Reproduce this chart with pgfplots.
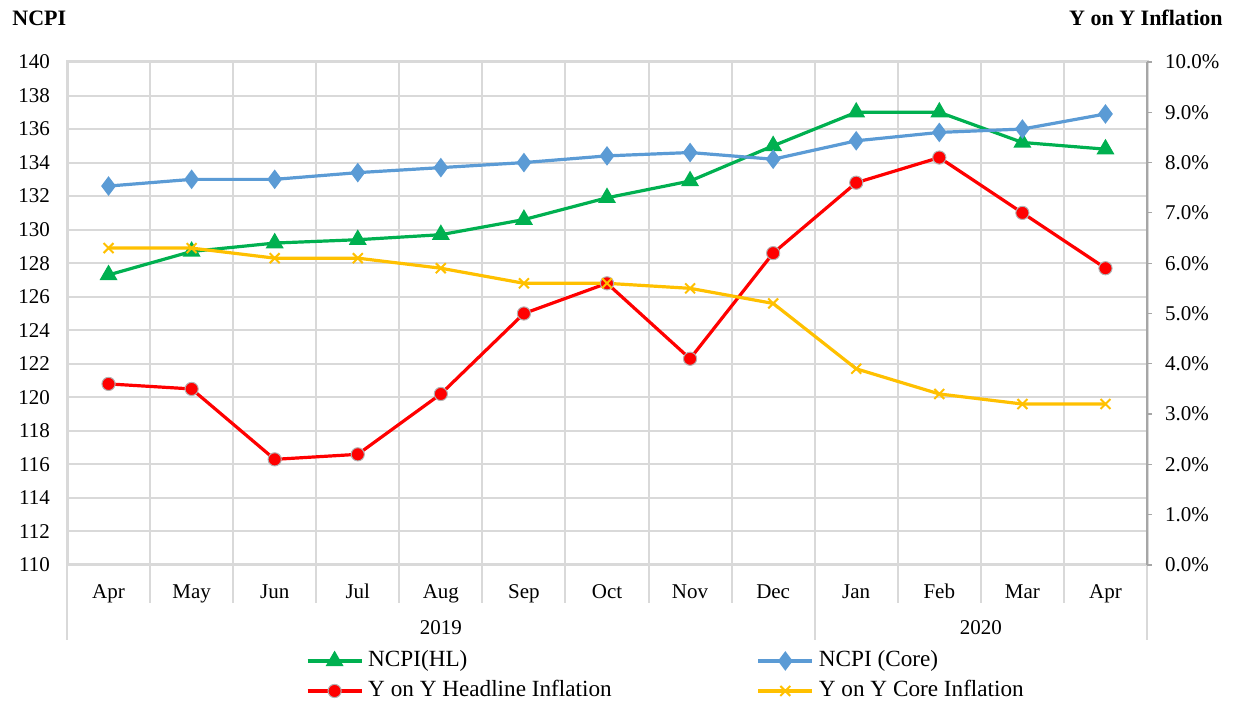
\documentclass[border=0pt]{standalone}
\usepackage{fontspec}
\setmainfont{Liberation Serif}
\usepackage{pgfplots}
\pgfplotsset{compat=1.18}
\definecolor{cgreen}{HTML}{00B050}
\definecolor{cblue}{HTML}{5B9BD5}
\definecolor{cred}{HTML}{FF0000}
\definecolor{cyel}{HTML}{FFC000}
\definecolor{cgrid}{HTML}{D9D9D9}
\definecolor{caxis}{HTML}{A6A6A6}
\begin{document}
\begin{tikzpicture}
\path[use as bounding box] (0,0) rectangle (618.5pt,352pt);
\node[anchor=west,inner sep=0pt,font=\fontsize{11}{13}\selectfont\bfseries] at (6pt,343pt) {NCPI};
\node[anchor=east,inner sep=0pt,font=\fontsize{11}{13}\selectfont\bfseries] at (611.5pt,343pt) {Y on Y Inflation};
\begin{axis}[at={(33.5pt,69.5pt)}, anchor=south west, scale only axis,
  width=540pt, height=251.5pt,
  xmin=-0.5, xmax=12.5, ymin=110, ymax=140,
  xtick={0,...,12},
  xticklabels={Apr,May,Jun,Jul,Aug,Sep,Oct,Nov,Dec,Jan,Feb,Mar,Apr},
  minor xtick={0.5,1.5,2.5,3.5,4.5,5.5,6.5,7.5,8.5,9.5,10.5,11.5},
  xminorgrids,
  ytick={110,112,...,140}, ymajorgrids,
  major tick length=0pt, minor tick length=0pt,
  grid style={cgrid, line width=1pt},
  minor grid style={cgrid, line width=1pt},
  axis line style={cgrid, line width=1.5pt},
  ticklabel style={font=\fontsize{10.5}{12}\selectfont},
  /pgf/number format/assume math mode=true,
  xticklabel style={text height=7pt, text depth=2.3pt, yshift=-6pt},
  yticklabel style={xshift=-5pt},
  clip=false]
\addplot[cgreen, line width=1.6pt, mark=triangle*, mark size=3.6pt] coordinates {
(0,127.3) (1,128.7) (2,129.2) (3,129.4) (4,129.7) (5,130.6) (6,131.9) (7,132.9) (8,135.0) (9,137.0) (10,137.0) (11,135.2) (12,134.8)};
\addplot[cblue, line width=1.6pt, mark=diamond*, mark size=3.6pt] coordinates {
(0,132.6) (1,133.0) (2,133.0) (3,133.4) (4,133.7) (5,134.0) (6,134.4) (7,134.6) (8,134.2) (9,135.3) (10,135.8) (11,136.0) (12,136.9)};
\end{axis}
\foreach \k in {1,2,3,4,5,6,7,8,10,11,12}
  \draw[cgrid, line width=1pt] (33.5pt+\k*41.5385pt,69.5pt) -- ++(0,-19pt);
\foreach \k in {0,9,13}
  \draw[cgrid, line width=1pt] (33.5pt+\k*41.5385pt,69.5pt) -- ++(0,-37.5pt);
\node[font=\fontsize{10.5}{12}\selectfont] at (33.5pt+4.5*41.5385pt,38pt) {2019};
\node[font=\fontsize{10.5}{12}\selectfont] at (33.5pt+11*41.5385pt,38pt) {2020};
\begin{axis}[at={(33.5pt,69.5pt)}, anchor=south west, scale only axis,
  width=540pt, height=251.5pt,
  xmin=-0.5, xmax=12.5, ymin=0, ymax=10,
  hide x axis, axis y line*=right,
  y axis line style={-, caxis, line width=0.6pt},
  ytick={0,1,...,10},
  ytick style={caxis, line width=0.6pt},
  tick align=outside, major tick length=2.5pt,
  yticklabel={\pgfmathprintnumber[fixed,fixed zerofill,precision=1]{\tick}\%},
  ticklabel style={font=\fontsize{10.5}{12}\selectfont},
  /pgf/number format/assume math mode=true,
  yticklabel style={xshift=3pt},
  clip=false,
  legend columns=2,
  legend cell align=left,
  legend style={draw=none, fill=none, inner sep=0pt, outer sep=0pt,
    font=\fontsize{11.6}{13}\selectfont,
    at={(axis description cs:0.2213,-0.161)}, anchor=north west,
    nodes={inner xsep=2.5pt, inner ysep=2pt, text height=8.5pt, text depth=2.5pt},
    /tikz/every even column/.append style={column sep=70pt}},
  legend image code/.code={\draw[mark repeat=2,mark phase=2] plot coordinates {(0pt,0pt) (13.5pt,0pt) (27pt,0pt)};}
  ]
\addlegendimage{cgreen, line width=1.6pt, mark=triangle*, mark size=3.6pt}
\addlegendentry{NCPI(HL)}
\addlegendimage{cblue, line width=1.6pt, mark=diamond*, mark size=3.6pt}
\addlegendentry{NCPI (Core)}
\addplot[cred, line width=1.6pt, mark=*, mark size=3.3pt, mark options={draw=gray!60, line width=0.5pt, fill=cred}] coordinates {
(0,3.6) (1,3.5) (2,2.1) (3,2.2) (4,3.4) (5,5.0) (6,5.6) (7,4.1) (8,6.2) (9,7.6) (10,8.1) (11,7.0) (12,5.9)};
\addlegendentry{Y on Y Headline Inflation}
\addplot[cyel, line width=1.6pt, mark=x, mark size=3.5pt, mark options={line width=1pt}] coordinates {
(0,6.3) (1,6.3) (2,6.1) (3,6.1) (4,5.9) (5,5.6) (6,5.6) (7,5.5) (8,5.2) (9,3.9) (10,3.4) (11,3.2) (12,3.2)};
\addlegendentry{Y on Y Core Inflation}
\end{axis}
\end{tikzpicture}
\end{document}
